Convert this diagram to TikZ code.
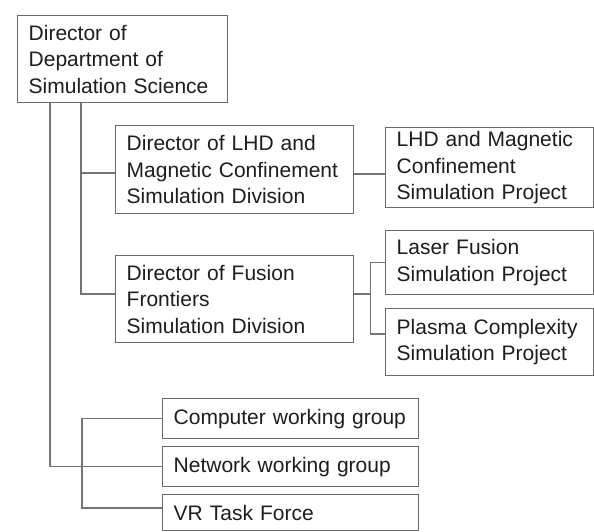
\documentclass[tikz,border=0pt]{standalone}
\usepackage{fontspec}
\setmainfont{Liberation Sans}
\definecolor{boxline}{HTML}{6A6A6A}
\definecolor{conline}{HTML}{747474}
\definecolor{txt}{HTML}{1E1E1E}
\tikzset{
  orgbox/.style={draw=boxline, line width=1.4pt, rectangle, anchor=north west,
    inner xsep=11pt, inner ysep=0pt, align=left, text=txt,
    font=\fontsize{21}{26.5}\selectfont},
  conn/.style={draw=conline, line width=1.4pt}
}
\begin{document}
\begin{tikzpicture}[x=1pt,y=-1pt]
\useasboundingbox (0,0) rectangle (594,531);
\fill[white] (0,0) rectangle (594,531);
% boxes
\node[orgbox, text width=188pt, minimum height=87pt] (top) at (17,15)
  {Director of\\Department of\\Simulation Science};
\node[orgbox, text width=216pt, minimum height=88pt] (lhd) at (115,125)
  {Director of LHD and\\Magnetic Confinement\\Simulation Division};
\node[orgbox, text width=216pt, minimum height=87pt] (fus) at (115,255)
  {Director of Fusion\\Frontiers\\Simulation Division};
\node[orgbox, text width=186pt, minimum height=80pt] (lhdp) at (385,127)
  {LHD and Magnetic\\Confinement\\Simulation Project};
\node[orgbox, text width=186pt, minimum height=64pt] (laser) at (385,230)
  {Laser Fusion\\Simulation Project};
\node[orgbox, text width=186pt, minimum height=67pt] (plasma) at (385,308)
  {Plasma Complexity\\Simulation Project};
\node[orgbox, text width=234pt, minimum height=40pt] (comp) at (162,398)
  {Computer working group};
\node[orgbox, text width=234pt, minimum height=40pt] (net) at (162,446)
  {Network working group};
\node[orgbox, text width=234pt, minimum height=36pt] (vr) at (162,494)
  {VR Task Force};
% connectors
\draw[conn] ([xshift=33pt]top.south west) |- (net.west);
\draw[conn] ([xshift=64pt]top.south west) |- (lhd.west |- 0,173);
\draw[conn] ([xshift=64pt]top.south west) |- (fus.west |- 0,294);
\draw[conn] (lhd.east |- 0,174) -- (lhdp.west |- 0,174);
\draw[conn] (fus.east |- 0,294) -- ++(16,0) coordinate (fj);
\draw[conn] (fj |- laser.west) -- (laser.west);
\draw[conn] (fj |- laser.west) -- (fj |- 0,334) -- (plasma.west |- 0,334);
\draw[conn] (comp.west) -- ++(-80,0) coordinate (bj) -- (bj |- 0,508) -- (vr.west |- 0,508);
\end{tikzpicture}
\end{document}
